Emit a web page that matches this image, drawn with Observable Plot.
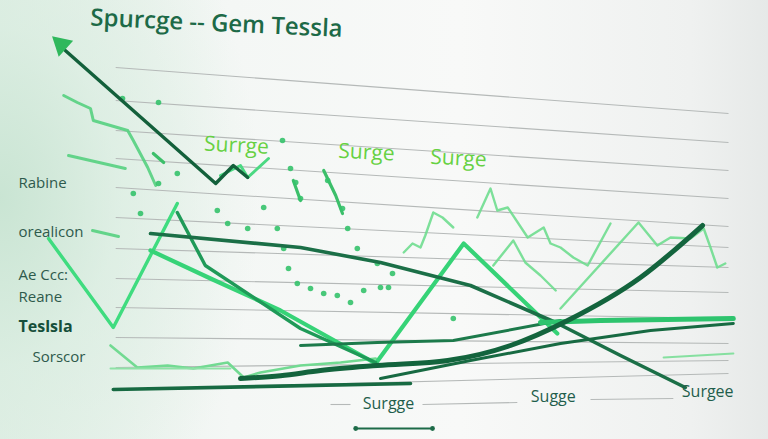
<!DOCTYPE html>
<html><head><meta charset="utf-8">
<script src="https://cdn.jsdelivr.net/npm/d3@7"></script>
<script src="https://cdn.jsdelivr.net/npm/@observablehq/plot@0.6"></script>
<style>
body{margin:0;}
#chart{position:relative;width:768px;height:439px;overflow:hidden;
background:
 radial-gradient(ellipse 260px 380px at 0% 45%, rgba(200,228,210,0.95) 0%, rgba(214,236,222,0.6) 45%, rgba(240,246,242,0) 100%),
 linear-gradient(to right, #e2efe6 0%, #f4f7f5 30%, #f8f9f8 60%, #eff1f0 90%, #e6e9e8 100%);}
</style></head><body><div id="chart"></div>
<script>
// ---- grid (value units) ----
const gridX = [14.4, 91];
const gridLeftY = [93.25,85,77.5,70.5,63.25,55.75,48,40.5,33.25,25.75,18.25,12.75];
const gridRightY = [81.75,74.5,67.5,60.5,53.5,48.25,43.25,37,30.5,24.25,20,16.75];

// ---- series ----
const arrowX = [8.1,26.9,29.1,30.9];           const arrowY = [97.5,64.25,68.75,65.75];
const arrowTipX = [7.6];                        const arrowTipY = [99];
const zigzagX = [6,14.1,22.1];                  const zigzagY = [50.5,28.25,59.25];
const peakDropX = [22.1,25.6,37.5,46.9];        const peakDropY = [57,43.75,28,19.5];
const vWaveX = [18.75,26.25,35,46.9,57.9,69.6]; const vWaveY = [47.5,40.5,32.5,19.25,49.25,26.75];
const declineX = [18.75,37.5,47.5,58.75,69.4,77.5,85.6]; const declineY = [51.75,48.25,44.5,38.75,29.5,21.25,13.25];
const riseX = [30,35,40,47.1,55.9,63.75,70.9,80,87.75];  const riseY = [15.5,16.2,17.5,18.75,20,23.75,30,40.75,53.75];
const baseDarkX = [14.1,51.25];                 const baseDarkY = [12.75,14.25];
const riseThinX = [47.5,58.75,70,81.25,91.6];   const riseThinY = [15.5,20,24.25,27.5,29.25];
const flatDarkX = [37.5,47.1,56.6,70];          const flatDarkY = [23.75,24.5,25,30];
const flatMidX = [67.5,75,91.6];                const flatMidY = [29.5,30,30.5];

const noisyAX = [50.4,51.5,52.5,53.1,54.1,55.25,56.6]; const noisyAY = [47,49.25,48.25,51.25,57,55.75,53.25];
const noisyBX = [59.6,61.25,62.1,63.4,65.9,67.9,68.75,70,71.6,73.4,76.25]; const noisyBY = [55.75,63,57.5,58.25,50.75,53.25,49.25,48.25,45.75,43.75,54.25];
const noisyCX = [70,79.75,82.1,83.75,86.25,87.9,88.75,89.6,90.6]; const noisyCY = [33,54.5,48.75,50.75,50.5,53,48.25,43.25,44.25];
const noisyDX = [61.6,63.1,64.1,65.6,67.5,69.4]; const noisyDY = [43.75,47.5,50,44.5,41.25,37.5];

const ulAX = [7.9,9.6,11.25,11.6,15.9,16.6,18.4,19.4]; const ulAY = [86.25,84.5,83,80,77.5,75,68.25,63.75];
const ulBX = [8.5,15.6];  const ulBY = [71.25,68];
const ulCX = [11.5,14.75]; const ulCY = [52.5,51];
const twigX = [27.5,30,30.9,33.5]; const twigY = [66.25,68.75,65.75,70.5];
const dashAX = [36.6,37.5]; const dashAY = [65,60];
const dashBX = [40.4,41.9,42.75]; const dashBY = [67.5,61.25,56.75];
const dashCX = [19.1,20.4]; const dashCY = [71.75,69.5];

const blX = [13.75,17.1,20.9,24.1,28.4,30.4,32.5,37.5,42.5,46.9]; const blY = [23.75,18.25,18.75,18,19.5,15.75,17,18.75,19.5,20.5];
const blStraightX = [13.75,28.75]; const blStraightY = [18,18];
const rightShortX = [82.9,91.6]; const rightShortY = [20.75,21.75];

const dotX = [16.6,17.5,19.75,22.1,27.1,28.4,30.9,32.9,34.6,35.4,36,37.1,38.75,40.4,42.1,43.75,45.4,47.5,48.5,36.9,37.5,40.9,42.75,43.4,44.6,47.1,49,15.25,19.75,35.25,36.25,56.6];
const dotY = [61.75,56.75,64.25,66.75,57.5,54.25,53,58.25,53,48,43,39.25,38,36.75,36.25,34.5,37.5,38.25,38.25,64.5,60.5,65,58,53,48,44.25,41.75,85.5,84.5,75,68,30.5];

// ---- text ----
const titleText = ["Spurcge -- Gem Tessla"]; const titleX = [27]; const titleY = [104.25];
const sideLabels = ["Rabine","orealicon","Ae Ccc:","Reane","Sorscor"];
const sideX = [2.25,2.25,2.25,2.25,4];
const sideY = [64.25,52,41.25,35.75,20.75];
const boldLabel = ["Teslsla"]; const boldX = [2.25]; const boldY = [28.5];
const surgeLabels = ["Surrge","Surge","Surge"]; const surgeX = [29.5,45.75,57.25]; const surgeY = [73.75,72,70.5];
const bottomLabels = ["Surgge","Sugge","Surgee"]; const bottomX = [48.5,69.1,88.4]; const bottomY = [9.25,11,12.25];
const axisDashX1 = [41.25,52.75,73.75]; const axisDashX2 = [43.75,64.6,84.1];
const axisDashY1 = [9,9,10.25]; const axisDashY2 = [9,9.5,10.5];
const underlineX = [44.4,54]; const underlineY = [3,3];

const pts = (xs, ys) => xs.map((x, i) => ({x, y: ys[i]}));
const segs = (list) => list.flatMap(([xs, ys], k) => xs.map((x, i) => ({x, y: ys[i], k})));
const grid = gridLeftY.map((y1, i) => ({x1: gridX[0], x2: gridX[1], y1, y2: gridRightY[i]}));
const lab = (t, xs, ys) => t.map((text, i) => ({text, x: xs[i], y: ys[i]}));

const L = (data, stroke, w, extra = {}) => Plot.line(data, {x: "x", y: "y", stroke, strokeWidth: w, strokeLinejoin: "round", strokeLinecap: "round", ...extra});
const FONT = "Open Sans, Noto Sans, sans-serif";

const chart = Plot.plot({
  width: 768, height: 439, margin: 0,
  x: {domain: [0, 96], range: [0, 768], axis: null},
  y: {domain: [0, 110], range: [440, 0], axis: null},
  style: {background: "transparent", overflow: "visible"},
  marks: [
    Plot.link(grid, {x1: "x1", y1: "y1", x2: "x2", y2: "y2", stroke: "#b5b9b8", strokeWidth: 1.1}),
    Plot.link(axisDashX1.map((x1, i) => ({x1, x2: axisDashX2[i], y1: axisDashY1[i], y2: axisDashY2[i]})), {x1: "x1", y1: "y1", x2: "x2", y2: "y2", stroke: "#b5b9b8", strokeWidth: 1.1}),
    // light background squiggles
    L(segs([[noisyAX, noisyAY],[noisyBX, noisyBY],[noisyCX, noisyCY],[noisyDX, noisyDY]]), "#6fdd8f", 2.4, {z: "k", strokeOpacity: 0.9}),
    L(segs([[ulAX, ulAY],[ulBX, ulBY],[ulCX, ulCY]]), "#55d07f", 3, {z: "k", strokeOpacity: 0.9}),
    L(segs([[dashAX, dashAY],[dashBX, dashBY],[dashCX, dashCY]]), "#3cbf6a", 3.2, {z: "k"}),
    L(pts(blX, blY), "#72da92", 2.6),
    L(pts(blStraightX, blStraightY), "#8ee2a6", 2),
    L(pts(rightShortX, rightShortY), "#86e0a0", 2.2),
    Plot.dot(pts(dotX, dotY), {x: "x", y: "y", r: 2.8, fill: "#35c26b", fillOpacity: 0.9}),
    // main lines
    L(pts(twigX, twigY), "#4bd982", 3),
    L(pts(zigzagX, zigzagY), "#3fdc7f", 3.4),
    L(pts(vWaveX, vWaveY), "#36d377", 4.2),
    L(pts(peakDropX, peakDropY), "#1f9a58", 3.4),
    L(pts(declineX, declineY), "#1b6f47", 3.6),
    L(pts(flatDarkX, flatDarkY), "#1c7a4b", 3),
    L(pts(flatMidX, flatMidY), "#2ec46e", 5),
    L(pts(baseDarkX, baseDarkY), "#176a42", 3.6),
    L(pts(riseThinX, riseThinY), "#176a42", 3),
    L(pts(riseX, riseY), "#13643d", 5, {curve: "monotone-x"}),
    L(pts(arrowX, arrowY), "#13603b", 3.4),
    Plot.dot(pts(arrowTipX, arrowTipY), {x: "x", y: "y", symbol: "triangle", r: 8, fill: "#2fb85c", rotate: -48}),
    L(pts(underlineX, underlineY), "#1d6b48", 2.2),
    Plot.dot(pts(underlineX, underlineY), {x: "x", y: "y", r: 2.4, fill: "#1d6b48"}),
    // text
    Plot.text(lab(titleText, titleX, titleY), {x: "x", y: "y", text: "text", fontSize: 24, fontWeight: 600, fill: "#1d6a47", rotate: 2.6, fontFamily: FONT}),
    Plot.text(lab(sideLabels, sideX, sideY), {x: "x", y: "y", text: "text", textAnchor: "start", fontSize: 15, fill: "#2e5a4c", fontFamily: FONT}),
    Plot.text(lab(boldLabel, boldX, boldY), {x: "x", y: "y", text: "text", textAnchor: "start", fontSize: 16, fontWeight: 700, fill: "#164f3a", fontFamily: FONT}),
    Plot.text(lab(surgeLabels, surgeX, surgeY), {x: "x", y: "y", text: "text", fontSize: 21, fontWeight: 500, fill: "#66d142", rotate: 3, fontFamily: FONT}),
    Plot.text(lab(bottomLabels, bottomX, bottomY), {x: "x", y: "y", text: "text", fontSize: 16, fontWeight: 500, fill: "#1f5e4c", fontFamily: FONT})
  ]
});
document.getElementById("chart").append(chart);
</script></body></html>
